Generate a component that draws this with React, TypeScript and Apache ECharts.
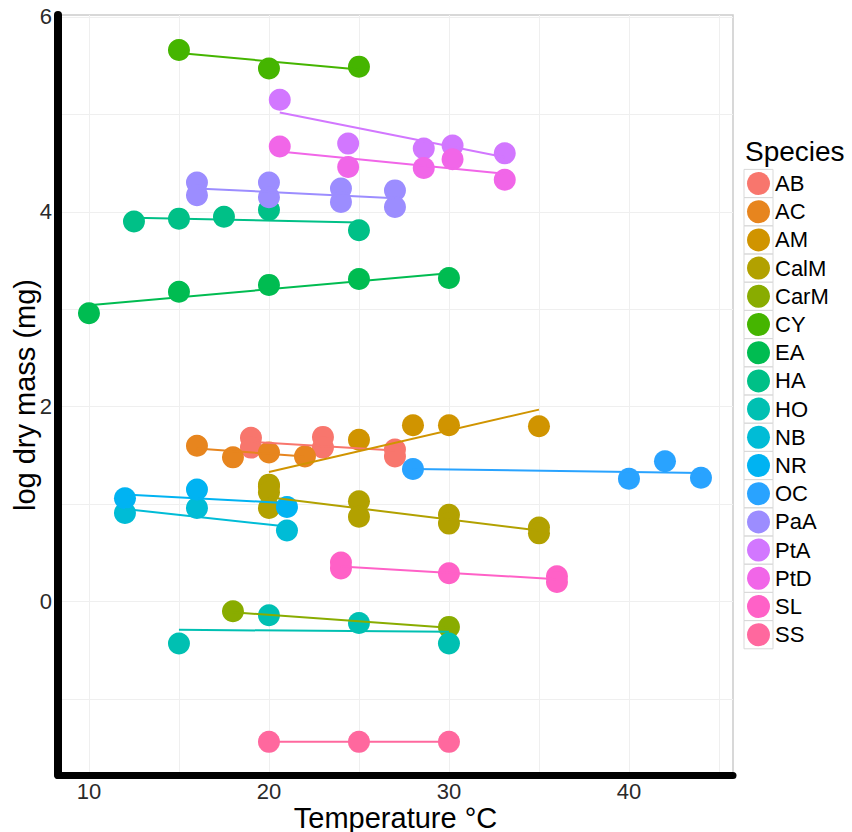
import React, { useEffect, useRef } from 'react';
import * as echarts from 'echarts';

const species = ['AB', 'AC', 'AM', 'CalM', 'CarM', 'CY', 'EA', 'HA', 'HO', 'NB', 'NR', 'OC', 'PaA', 'PtA', 'PtD', 'SL', 'SS'];
const colors = ['#F8766D', '#E7851E', '#D09400', '#B2A100', '#89AC00', '#45B500', '#00BC51', '#00C087', '#00C0B2', '#00BCD6', '#00B3F2', '#29A3FF', '#9C8DFF', '#D277FF', '#F166E8', '#FF61C7', '#FF689E'];

// temperature (°C) of each measurement, per species
const temps: number[][] = [
  [19, 19, 23, 23, 27, 27],
  [16, 18, 20, 22],
  [20, 25, 28, 30, 35],
  [20, 20, 20, 25, 25, 30, 30, 35, 35],
  [18, 30],
  [15, 20, 25],
  [10, 15, 20, 25, 30],
  [12.5, 15, 17.5, 20, 25],
  [15, 20, 25, 30],
  [12, 16, 21],
  [12, 16, 21],
  [28, 40, 42, 44],
  [16, 16, 20, 20, 24, 24, 27, 27],
  [20.6, 24.4, 28.6, 30.2, 33.1],
  [20.6, 24.4, 28.6, 30.2, 33.1],
  [24, 24, 30, 36, 36],
  [20, 25, 30],
];

// log dry mass (mg), per species
const masses: number[][] = [
  [1.68, 1.58, 1.69, 1.58, 1.56, 1.49],
  [1.60, 1.48, 1.53, 1.49],
  [1.18, 1.66, 1.81, 1.81, 1.80],
  [1.20, 1.12, 0.96, 1.03, 0.87, 0.89, 0.80, 0.76, 0.70],
  [-0.10, -0.26],
  [5.66, 5.47, 5.49],
  [2.96, 3.18, 3.25, 3.31, 3.32],
  [3.90, 3.93, 3.95, 4.02, 3.81],
  [-0.43, -0.14, -0.22, -0.43],
  [0.91, 0.96, 0.73],
  [1.06, 1.15, 0.97],
  [1.36, 1.26, 1.44, 1.27],
  [4.30, 4.17, 4.30, 4.15, 4.24, 4.10, 4.22, 4.05],
  [5.15, 4.70, 4.65, 4.68, 4.60],
  [4.67, 4.46, 4.45, 4.54, 4.33],
  [0.40, 0.34, 0.29, 0.26, 0.20],
  [-1.44, -1.44, -1.44],
];

// fitted line ends [temp, mass]
const fitFrom: number[][] = [
  [19, 1.64], [16, 1.57], [20, 1.33], [20, 1.07], [18, -0.11], [15, 5.63], [10, 3.04], [12.5, 3.94], [15, -0.29],
  [12, 0.95], [12, 1.10], [28, 1.36], [16, 4.24], [20.6, 5.02], [20.6, 4.62], [24, 0.36], [20, -1.44],
];
const fitTo: number[][] = [
  [27, 1.55], [22, 1.49], [35, 1.97], [35, 0.73], [30, -0.27], [25, 5.46], [30, 3.37], [25, 3.89], [30, -0.31],
  [21, 0.77], [21, 1.01], [44, 1.32], [27, 4.14], [33.1, 4.56], [33.1, 4.39], [36, 0.23], [30, -1.44],
];

const xTickLabels = [10, 20, 30, 40];
const xGridValues = [10, 15, 20, 25, 30, 35, 40, 45];
const yTickLabels = [0, 2, 4, 6];
const yGridValues = [-1, 0, 1, 2, 3, 4, 5, 6];

export default function App() {
  const ref = useRef<HTMLDivElement>(null);
  useEffect(() => {
    document.body.style.margin = '0';
    const chart = echarts.init(ref.current!, undefined, { renderer: 'svg' });
    const font = "'Liberation Sans', Arial, Helvetica, sans-serif";

    const scatterSeries = species.map((s, i) => ({
      type: 'scatter',
      name: s,
      data: temps[i].map((t, j) => [t, masses[i][j]]),
      symbol: 'circle',
      symbolSize: 22,
      itemStyle: { color: colors[i], opacity: 1 },
      z: 2,
      silent: true,
    }));
    const lineSeries = species.map((s, i) => ({
      type: 'line',
      name: s,
      data: [fitFrom[i], fitTo[i]],
      showSymbol: false,
      symbol: 'none',
      lineStyle: { color: colors[i], width: 2 },
      itemStyle: { color: colors[i] },
      z: 3,
      silent: true,
    }));

    const legendTop = 172;
    const pitch = 28.2;
    const keyBoxes = species.map((_, i) => ({
      type: 'rect',
      shape: { x: 744, y: legendTop - 2.6 + i * pitch, width: 29, height: pitch },
      style: { fill: 'none', stroke: '#d9d9d9', lineWidth: 1 },
      z: 1,
      silent: true,
    }));

    chart.setOption({
      animation: false,
      backgroundColor: '#ffffff',
      title: {
        text: 'Species',
        left: 745,
        top: 137,
        padding: 0,
        textStyle: { fontFamily: font, fontSize: 28, fontWeight: 'normal', color: '#000' },
      },
      legend: {
        orient: 'vertical',
        left: 747,
        top: legendTop,
        padding: 0,
        itemWidth: 23,
        itemHeight: 23,
        itemGap: pitch - 23,
        icon: 'circle',
        selectedMode: false,
        data: species,
        textStyle: { fontFamily: font, fontSize: 22, color: '#000', lineHeight: 23 },
      },
      graphic: keyBoxes,
      grid: {
        left: 58,
        right: 119,
        top: 15,
        bottom: 57,
        containLabel: false,
        outerBoundsMode: 'none',
        show: true,
        borderColor: '#cccccc',
        borderWidth: 1.5,
        backgroundColor: 'transparent',
      },
      xAxis: {
        type: 'value',
        min: 8.28,
        max: 45.78,
        name: 'Temperature °C',
        nameLocation: 'middle',
        nameGap: 28,
        nameMoveOverlap: false,
        nameTextStyle: { fontFamily: font, fontSize: 29, color: '#000' },
        axisLine: { show: true, onZero: false, lineStyle: { color: '#000', width: 7 } },
        axisTick: { show: false, customValues: xGridValues },
        axisLabel: { customValues: xTickLabels, fontFamily: font, fontSize: 22, color: '#2a2a2a', margin: 5 },
        splitLine: { show: true, lineStyle: { color: '#efefef', width: 1 } },
      },
      yAxis: {
        type: 'value',
        min: -1.78,
        max: 6.02,
        name: 'log dry mass (mg)',
        nameLocation: 'middle',
        nameGap: 19,
        nameMoveOverlap: false,
        nameTextStyle: { fontFamily: font, fontSize: 29, color: '#000' },
        axisLine: { show: true, onZero: false, lineStyle: { color: '#000', width: 8 } },
        axisTick: { show: false, customValues: yGridValues },
        axisLabel: { customValues: yTickLabels, fontFamily: font, fontSize: 22, color: '#2a2a2a', margin: 6 },
        splitLine: { show: true, lineStyle: { color: '#efefef', width: 1 } },
      },
      series: [...scatterSeries, ...lineSeries],
    });
    return () => chart.dispose();
  }, []);
  return <div ref={ref} style={{ width: 852, height: 832 }} />;
}
